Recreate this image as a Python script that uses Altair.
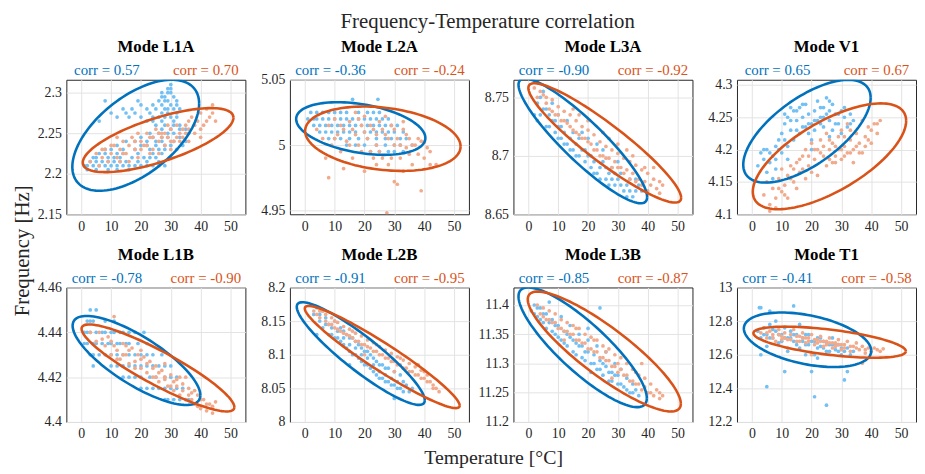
import altair as alt
import pandas as pd
import numpy as np

FONT = "Liberation Serif, serif"
BLUE_PT = "#72c0f4"
ORANGE_PT = "#f2aa8c"
BLUE_LN = "#0072BD"
ORANGE_LN = "#D95319"
W, H = 181, 136

XTICKS = [0, 10, 20, 30, 40, 50]
XDOM = [-5, 55]

# ---------------- data ----------------
# blue series with quantised frequencies: {frequency: [temperatures]}
L1A_B_ROWS = {
    2.205: [2, 5, 9, 12, 16],
    2.21: [1, 2, 4, 6, 8, 10, 12, 14, 16, 18, 20, 22, 24, 26, 28],
    2.215: [3, 5, 7, 9, 11, 13, 15, 19, 22, 26],
    2.22: [4, 5, 9, 11, 13, 17, 21, 23, 25, 30],
    2.225: [6, 8, 12, 14, 19, 24, 27],
    2.23: [8, 10, 14, 18, 23, 26, 28, 32],
    2.235: [12, 20, 22, 25, 28, 30, 34],
    2.24: [15, 18, 22, 25, 27, 31, 35],
    2.245: [20, 24, 27, 29, 33],
    2.25: [23, 26, 29, 31, 36],
    2.255: [27, 30, 33, 35],
    2.26: [25, 28, 31, 33],
    2.265: [6, 22, 24, 27, 31],
    2.27: [12, 16, 20, 24, 26, 28, 30, 32],
    2.275: [10, 15, 18, 23, 27, 29, 32],
    2.28: [14, 17, 22, 25, 28, 29, 31, 33],
    2.285: [20, 24, 27, 30, 32],
    2.29: [8, 19, 26, 28, 29, 32],
    2.295: [27, 28, 31],
    2.3: [27, 29, 30],
    2.305: [29, 30],
    2.31: [30],
}
L1A_O = [(3, 2.215), (5, 2.225), (6, 2.21), (7, 2.22), (8, 2.23), (9, 2.215), (10, 2.225), (11, 2.235),
         (12, 2.22), (12, 2.245), (13, 2.23), (14, 2.24), (15, 2.225), (16, 2.235), (17, 2.245), (18, 2.23),
         (19, 2.25), (20, 2.24), (21, 2.235), (22, 2.25), (23, 2.245), (24, 2.23), (25, 2.255), (26, 2.24),
         (27, 2.25), (28, 2.235), (29, 2.245), (30, 2.255), (31, 2.24), (32, 2.26), (33, 2.25), (34, 2.245),
         (35, 2.26), (36, 2.255), (37, 2.27), (38, 2.25), (39, 2.265), (40, 2.275), (41, 2.26), (42, 2.28),
         (43, 2.27), (44, 2.285), (45, 2.265), (36, 2.24), (26, 2.225), (16, 2.215), (40, 2.245),
         (14, 2.225), (18, 2.24), (22, 2.235), (24, 2.245), (28, 2.25), (30, 2.24), (32, 2.245), (34, 2.255),
         (38, 2.26), (10, 2.235), (13, 2.215), (20, 2.23), (26, 2.25), (30, 2.23), (33, 2.24), (36, 2.265),
         (42, 2.265), (44, 2.275), (7, 2.23), (19, 2.22), (23, 2.225), (27, 2.245), (29, 2.26), (35, 2.25),
         (40, 2.255)]

L2A_B_ROWS = {
    5.035: [16, 24.5],
    5.025: [2, 4, 6, 8, 10, 12, 14, 18, 21, 23, 25],
    5.02: [1, 3, 4, 6, 8, 10, 12, 14, 16, 18, 20, 22, 24, 26, 28],
    5.015: [3, 5, 7, 9, 11, 13, 15, 17, 19, 21, 23, 25, 27, 29, 31],
    5.01: [5, 7, 9, 11, 13, 15, 17, 20, 22, 24, 26, 28, 30, 33],
    5.005: [8, 10, 12, 15, 18, 21, 24, 27, 29, 32, 34],
    5.0: [14, 17, 20, 24, 27, 30, 32, 36],
    4.995: [22, 25, 28, 30, 33],
}
L2A_O = [(4, 5.012), (6, 5.005), (7, 4.99), (8, 5.015), (9, 5.0), (10, 5.02), (11, 5.008), (12, 4.995),
         (13, 5.012), (14, 5.003), (15, 5.018), (16, 4.99), (17, 5.008), (18, 5.0), (19, 5.015), (20, 5.022),
         (21, 5.005), (22, 4.995), (23, 5.012), (24, 5.0), (25, 5.018), (26, 4.99), (27, 5.008), (28, 4.985),
         (29, 5.015), (30, 5.0), (31, 5.005), (32, 4.99), (33, 5.012), (34, 4.998), (35, 5.005), (36, 4.985),
         (37, 5.0), (38, 4.993), (39, 5.003), (40, 4.99), (41, 4.998), (42, 4.985), (44, 4.985), (8, 4.975),
         (13, 4.982), (20, 4.98), (30, 4.972), (31, 4.97), (39, 4.965), (27.5, 4.948), (33, 4.98), (24, 4.985),
         (12, 5.015), (16, 5.012), (18, 5.02), (20, 5.01), (22, 5.015), (24, 5.008), (26, 5.012), (28, 5.005),
         (30, 5.012), (32, 5.0), (34, 5.008), (36, 5.0), (38, 5.005), (40, 5.002), (42, 4.995), (15, 5.0),
         (19, 4.995), (25, 4.995), (29, 4.99), (35, 4.993), (10, 5.005), (27, 5.022), (33, 5.018), (23, 4.99),
         (17, 5.025)]

L3A_B = [(3, 8.745), (4, 8.735), (5, 8.74), (6, 8.725), (7, 8.735), (8, 8.73), (9, 8.72), (10, 8.725),
         (11, 8.715), (12, 8.72), (13, 8.71), (14, 8.715), (15, 8.705), (16, 8.71), (17, 8.7), (18, 8.705),
         (19, 8.695), (20, 8.7), (21, 8.69), (22, 8.695), (23, 8.685), (24, 8.69), (25, 8.695), (26, 8.68),
         (27, 8.685), (28, 8.69), (29, 8.675), (30, 8.68), (31, 8.685), (32, 8.67), (33, 8.675), (34, 8.68),
         (35, 8.665), (36, 8.67), (37, 8.675), (10, 8.735), (15, 8.72), (20, 8.715), (25, 8.705), (30, 8.695),
         (5, 8.755), (8, 8.745), (13, 8.73), (18, 8.72), (23, 8.71),
         (4, 8.75), (6, 8.74), (7, 8.725), (9, 8.73), (11, 8.725), (12, 8.71), (14, 8.705), (16, 8.7),
         (17, 8.715), (19, 8.705), (21, 8.7), (22, 8.685), (24, 8.68), (26, 8.69), (27, 8.675), (28, 8.68),
         (29, 8.685), (31, 8.675), (33, 8.665), (34, 8.67), (36, 8.68), (38, 8.67), (2, 8.735), (3, 8.73),
         (10, 8.715)]
L3A_O = [(2, 8.758), (3, 8.75), (5, 8.752), (6, 8.745), (7, 8.74), (8, 8.748), (9, 8.735), (10, 8.742),
         (11, 8.73), (12, 8.738), (13, 8.728), (14, 8.735), (15, 8.722), (16, 8.73), (17, 8.718), (18, 8.725),
         (19, 8.715), (20, 8.722), (21, 8.71), (22, 8.718), (23, 8.705), (24, 8.712), (25, 8.7), (26, 8.708),
         (27, 8.698), (28, 8.705), (29, 8.695), (30, 8.702), (31, 8.69), (32, 8.698), (33, 8.688), (34, 8.695),
         (35, 8.685), (36, 8.692), (37, 8.68), (38, 8.688), (39, 8.678), (40, 8.685), (41, 8.675), (42, 8.68),
         (43, 8.672), (44, 8.678), (45, 8.675), (20, 8.73), (30, 8.71), (15, 8.74), (35, 8.7), (25, 8.72),
         (4, 8.755), (6, 8.75), (8, 8.738), (10, 8.735), (12, 8.73), (14, 8.725), (16, 8.72), (18, 8.715),
         (20, 8.712), (22, 8.705), (24, 8.7), (26, 8.698), (28, 8.69), (30, 8.69), (32, 8.685), (34, 8.68),
         (36, 8.678), (38, 8.675), (40, 8.67), (42, 8.69), (44, 8.668), (17, 8.735), (27, 8.715), (33, 8.705),
         (39, 8.69)]

V1_B = [(2, 4.175), (3, 4.195), (4, 4.185), (5, 4.165), (5, 4.2), (6, 4.18), (7, 4.19), (8, 4.205), (8, 4.17),
        (9, 4.215), (10, 4.195), (10, 4.225), (11, 4.24), (12, 4.205), (12, 4.25), (13, 4.23), (14, 4.26),
        (14, 4.215), (15, 4.245), (16, 4.265), (16, 4.225), (17, 4.25), (18, 4.235), (18, 4.27), (19, 4.255),
        (20, 4.24), (20, 4.215), (21, 4.26), (22, 4.245), (22, 4.275), (23, 4.25), (24, 4.265), (24, 4.235),
        (25, 4.28), (25, 4.255), (26, 4.245), (27, 4.27), (27, 4.23), (28, 4.255), (29, 4.24), (30, 4.26),
        (31, 4.25), (32, 4.235), (33, 4.255), (34, 4.245), (7, 4.155), (12, 4.185), (20, 4.2), (26, 4.22),
        (30, 4.225),
        (4, 4.2), (6, 4.195), (8, 4.185), (9, 4.2), (11, 4.215), (11, 4.255), (13, 4.245), (13, 4.265),
        (15, 4.23), (15, 4.26), (17, 4.235), (17, 4.27), (19, 4.24), (19, 4.225), (21, 4.245), (21, 4.23),
        (23, 4.265), (23, 4.24), (24, 4.25), (26, 4.26), (26, 4.275), (28, 4.24), (29, 4.255), (31, 4.265),
        (33, 4.24)]
V1_O = [(4, 4.13), (5, 4.15), (6, 4.115), (7, 4.14), (8, 4.125), (9, 4.155), (10, 4.135), (10, 4.17),
        (11, 4.145), (12, 4.16), (12, 4.125), (13, 4.175), (14, 4.15), (15, 4.18), (15, 4.14), (16, 4.165),
        (17, 4.19), (18, 4.155), (18, 4.2), (19, 4.175), (20, 4.21), (20, 4.165), (21, 4.185), (22, 4.2),
        (22, 4.16), (23, 4.215), (24, 4.19), (25, 4.175), (25, 4.225), (26, 4.2), (27, 4.21), (27, 4.18),
        (28, 4.19), (29, 4.22), (29, 4.2), (30, 4.185), (30, 4.23), (31, 4.205), (32, 4.195), (32, 4.24),
        (33, 4.215), (34, 4.2), (34, 4.18), (35, 4.225), (36, 4.21), (37, 4.245), (37, 4.195), (38, 4.22),
        (39, 4.235), (40, 4.21), (41, 4.24), (42, 4.225), (43, 4.245), (6, 4.105), (8, 4.11),
        (9, 4.14), (11, 4.13), (13, 4.155), (14, 4.17), (16, 4.185), (17, 4.17), (19, 4.19), (21, 4.2),
        (23, 4.195), (24, 4.205), (26, 4.185), (26, 4.215), (28, 4.205), (28, 4.18), (30, 4.2), (31, 4.19),
        (31, 4.22), (33, 4.195), (33, 4.23), (35, 4.205), (36, 4.195), (38, 4.205), (39, 4.215), (40, 4.23),
        (42, 4.24)]

L1B_B_ROWS = {
    4.45: [3, 5],
    4.445: [2, 3, 4, 8, 11],
    4.44: [1, 2, 3, 5, 7, 8, 10, 11, 13, 14, 16, 18, 21],
    4.435: [1, 2, 4, 5, 7, 9, 10, 12, 13, 15, 16, 19, 22],
    4.43: [3, 4, 6, 8, 10, 12, 14, 16, 18, 20, 22, 24, 27],
    4.425: [4, 10, 12, 14, 16, 18, 20, 22, 24, 26, 28, 30],
    4.42: [14, 16, 18, 20, 23, 25, 28, 30, 32],
    4.415: [20, 22, 24, 26, 28, 30, 32, 34],
    4.41: [28, 29, 31, 33, 35, 36],
}
L1B_O = [(3, 4.44), (5, 4.436), (6, 4.44), (8, 4.434), (9, 4.438), (10, 4.43), (11, 4.447), (11, 4.434),
         (12, 4.432), (13, 4.428), (14, 4.435), (15, 4.43), (16, 4.426), (17, 4.433), (18, 4.427), (19, 4.43),
         (20, 4.424), (21, 4.429), (22, 4.422), (23, 4.427), (24, 4.42), (25, 4.425), (26, 4.418), (27, 4.423),
         (28, 4.419), (29, 4.416), (30, 4.421), (31, 4.414), (32, 4.419), (33, 4.412), (34, 4.417), (35, 4.41),
         (36, 4.415), (37, 4.413), (38, 4.408), (39, 4.412), (40, 4.406), (41, 4.41), (42, 4.405), (43, 4.408),
         (44, 4.407), (45, 4.409), (28, 4.426), (20, 4.432), (35, 4.42),
         (7, 4.437), (10, 4.436), (12, 4.428), (14, 4.43), (16, 4.432), (18, 4.424), (20, 4.428), (22, 4.426),
         (24, 4.424), (26, 4.422), (28, 4.42), (30, 4.416), (32, 4.416), (34, 4.414), (36, 4.412), (38, 4.414),
         (40, 4.41), (42, 4.408), (44, 4.404), (15, 4.434), (25, 4.42), (31, 4.418), (33, 4.42), (37, 4.41),
         (39, 4.407)]

L2B_B = [(3, 8.16), (4, 8.17), (5, 8.15), (6, 8.14), (6, 8.165), (7, 8.155), (8, 8.13), (8, 8.145), (9, 8.14),
         (10, 8.125), (10, 8.15), (11, 8.135), (12, 8.12), (12, 8.14), (13, 8.125), (14, 8.11), (14, 8.13),
         (15, 8.115), (16, 8.1), (16, 8.125), (17, 8.11), (18, 8.095), (18, 8.115), (19, 8.1), (20, 8.085),
         (20, 8.105), (21, 8.095), (22, 8.08), (22, 8.1), (23, 8.085), (24, 8.07), (24, 8.09), (25, 8.075),
         (26, 8.065), (26, 8.085), (27, 8.07), (28, 8.06), (28, 8.08), (29, 8.065), (30, 8.055), (30, 8.075),
         (31, 8.06), (32, 8.05), (32, 8.07), (34, 8.055), (35, 8.045), (30, 8.035), (4, 8.13), (15, 8.085),
         (5, 8.16), (7, 8.145), (9, 8.13), (11, 8.125), (13, 8.115), (13, 8.135), (15, 8.105), (15, 8.125),
         (17, 8.1), (17, 8.12), (19, 8.09), (19, 8.11), (21, 8.085), (21, 8.105), (23, 8.075), (23, 8.095),
         (25, 8.065), (25, 8.085), (27, 8.06), (27, 8.08), (29, 8.055), (31, 8.05), (33, 8.06), (33, 8.045),
         (36, 8.05)]
L2B_O = [(3, 8.165), (4, 8.16), (5, 8.155), (6, 8.165), (7, 8.15), (8, 8.145), (9, 8.155), (10, 8.14),
         (11, 8.148), (12, 8.135), (13, 8.142), (14, 8.13), (15, 8.138), (16, 8.125), (17, 8.132), (18, 8.12),
         (19, 8.128), (20, 8.115), (21, 8.122), (22, 8.11), (23, 8.118), (24, 8.105), (25, 8.112), (26, 8.1),
         (27, 8.107), (28, 8.095), (29, 8.102), (30, 8.09), (31, 8.097), (32, 8.085), (33, 8.092), (34, 8.08),
         (35, 8.087), (36, 8.075), (37, 8.082), (38, 8.07), (39, 8.077), (40, 8.065), (41, 8.07), (42, 8.06),
         (43, 8.055), (44, 8.05), (45, 8.045), (38, 8.085), (20, 8.1), (30, 8.075),
         (5, 8.165), (7, 8.16), (9, 8.145), (11, 8.138), (13, 8.132), (15, 8.128), (17, 8.12), (19, 8.115),
         (21, 8.112), (23, 8.105), (25, 8.1), (27, 8.095), (29, 8.09), (31, 8.085), (33, 8.08), (35, 8.075),
         (37, 8.07), (39, 8.065), (41, 8.06), (43, 8.05), (10, 8.15), (16, 8.135), (24, 8.115), (32, 8.095),
         (40, 8.075)]

L3B_B = [(1, 11.39), (2, 11.4), (3, 11.38), (4, 11.395), (5, 11.37), (6, 11.385), (6, 11.36), (7, 11.405),
         (8, 11.375), (9, 11.35), (10, 11.365), (11, 11.34), (11, 11.38), (12, 11.355), (13, 11.33), (14, 11.345),
         (14, 11.365), (15, 11.32), (16, 11.335), (17, 11.35), (18, 11.31), (18, 11.33), (19, 11.32), (20, 11.34),
         (21, 11.3), (22, 11.315), (23, 11.29), (23, 11.33), (24, 11.305), (25, 11.28), (26, 11.295), (26, 11.32),
         (27, 11.27), (28, 11.285), (29, 11.3), (30, 11.265), (30, 11.28), (31, 11.29), (32, 11.26), (33, 11.275),
         (34, 11.25), (35, 11.265), (36, 11.255), (37, 11.245), (24, 11.395), (20, 11.36),
         (2, 11.385), (3, 11.395), (4, 11.375), (5, 11.385), (7, 11.37), (8, 11.355), (9, 11.365), (10, 11.345),
         (12, 11.335), (13, 11.35), (15, 11.34), (16, 11.315), (17, 11.33), (19, 11.305), (20, 11.32),
         (21, 11.285), (22, 11.3), (24, 11.29), (25, 11.3), (27, 11.285), (28, 11.27), (29, 11.28),
         (31, 11.265), (33, 11.255), (35, 11.25)]
L3B_O = [(3, 11.4), (4, 11.385), (5, 11.395), (6, 11.375), (7, 11.39), (8, 11.37), (9, 11.385), (10, 11.36),
         (11, 11.375), (12, 11.355), (13, 11.37), (14, 11.35), (15, 11.365), (16, 11.34), (17, 11.36),
         (18, 11.335), (19, 11.35), (20, 11.325), (21, 11.345), (22, 11.32), (23, 11.34), (24, 11.31),
         (25, 11.33), (26, 11.305), (27, 11.325), (28, 11.295), (29, 11.315), (30, 11.285), (31, 11.31),
         (32, 11.28), (33, 11.3), (34, 11.27), (35, 11.29), (36, 11.265), (37, 11.28), (38, 11.255), (39, 11.275),
         (40, 11.25), (41, 11.265), (42, 11.245), (43, 11.255), (44, 11.25), (45, 11.245), (38, 11.3),
         (12, 11.34), (28, 11.275),
         (5, 11.38), (7, 11.375), (9, 11.37), (11, 11.36), (13, 11.355), (15, 11.35), (17, 11.34), (19, 11.335),
         (21, 11.325), (23, 11.32), (25, 11.31), (27, 11.305), (29, 11.295), (31, 11.29), (33, 11.28),
         (35, 11.27), (37, 11.265), (39, 11.26), (41, 11.25), (44, 11.24), (16, 11.36), (22, 11.34),
         (26, 11.32), (30, 11.3), (36, 11.285)]

T1_B = [(2, 12.74), (3, 12.7), (3, 12.6), (4, 12.76), (5, 12.72), (5, 12.65), (6, 12.78), (7, 12.7), (8, 12.74),
        (8, 12.8), (9, 12.67), (10, 12.72), (11, 12.76), (12, 12.7), (12, 12.62), (13, 12.74), (14, 12.68),
        (15, 12.72), (16, 12.78), (16, 12.64), (17, 12.7), (18, 12.66), (19, 12.72), (20, 12.68), (21, 12.6),
        (22, 12.7), (23, 12.65), (24, 12.68), (25, 12.62), (26, 12.66), (27, 12.7), (28, 12.63), (29, 12.66),
        (30, 12.6), (32, 12.64), (34, 12.62), (2.5, 12.88), (3, 12.88), (6, 12.86), (14, 12.89), (5, 12.41),
        (11, 12.5), (20, 12.5), (21, 12.35), (25, 12.3), (31, 12.45), (32, 12.5), (22, 12.58),
        (4, 12.72), (6, 12.7), (7, 12.75), (9, 12.72), (10, 12.68), (11, 12.7), (13, 12.7), (14, 12.72),
        (15, 12.66), (17, 12.68), (18, 12.72), (19, 12.66), (21, 12.68), (22, 12.64), (23, 12.7), (24, 12.64),
        (25, 12.67), (26, 12.62), (27, 12.66), (28, 12.66), (29, 12.62), (30, 12.64), (31, 12.62), (33, 12.6),
        (18, 12.6)]
T1_O = [(3, 12.73), (4, 12.76), (5, 12.7), (6, 12.74), (7, 12.72), (8, 12.68), (9, 12.75), (10, 12.71),
        (11, 12.73), (12, 12.69), (13, 12.72), (14, 12.75), (15, 12.68), (16, 12.71), (17, 12.73), (18, 12.67),
        (19, 12.7), (20, 12.72), (21, 12.66), (22, 12.69), (23, 12.71), (24, 12.65), (25, 12.68), (26, 12.7),
        (27, 12.64), (28, 12.67), (29, 12.69), (30, 12.63), (31, 12.66), (32, 12.68), (33, 12.62), (34, 12.65),
        (35, 12.67), (36, 12.63), (37, 12.65), (38, 12.61), (39, 12.64), (40, 12.62), (41, 12.64), (42, 12.63),
        (43, 12.62), (44, 12.635), (37, 12.55), (20, 12.6), (12, 12.64),
        (5, 12.73), (7, 12.7), (9, 12.72), (10, 12.69), (11, 12.7), (13, 12.69), (15, 12.71), (16, 12.68),
        (17, 12.7), (18, 12.7), (19, 12.68), (21, 12.69), (22, 12.67), (23, 12.68), (24, 12.68), (25, 12.66),
        (26, 12.67), (27, 12.67), (28, 12.65), (29, 12.66), (30, 12.66), (31, 12.64), (33, 12.65), (35, 12.64),
        (38, 12.63)]

# ellipses: (x min, x max, y min, y max, correlation)
ELL_B = {
    "L1A": (-3, 39.5, 2.179, 2.316, 0.57), "L2A": (-2.9, 40.4, 4.9925, 5.0328, -0.36),
    "L3A": (-3.3, 39.8, 8.6594, 8.766, -0.90), "V1": (-2.9, 39.8, 4.149, 4.3078, 0.65),
    "L1B": (-2.9, 39.9, 4.4076, 4.4473, -0.78), "L2B": (-2.7, 40.2, 8.0254, 8.178, -0.91),
    "L3B": (-3.3, 39.7, 11.2254, 11.43, -0.85), "T1": (-2.7, 40, 12.527, 12.851, -0.41),
}
ELL_O = {
    "L1A": (0.5, 51, 2.202, 2.281, 0.70), "L2A": (0.1, 52.2, 4.9802, 5.0295, -0.24),
    "L3A": (0, 51.2, 8.66, 8.762, -0.92), "V1": (0.3, 51.7, 4.1078, 4.2715, 0.67),
    "L1B": (0.1, 51.3, 4.4047, 4.4435, -0.90), "L2B": (0, 51.9, 8.0206, 8.1725, -0.95),
    "L3B": (-0.2, 51.1, 11.218, 11.423, -0.87), "T1": (0.5, 51.6, 12.582, 12.767, -0.58),
}
CORR_B = {"L1A": "0.57", "L2A": "-0.36", "L3A": "-0.90", "V1": "0.65",
          "L1B": "-0.78", "L2B": "-0.91", "L3B": "-0.85", "T1": "-0.41"}
CORR_O = {"L1A": "0.70", "L2A": "-0.24", "L3A": "-0.92", "V1": "0.67",
          "L1B": "-0.90", "L2B": "-0.95", "L3B": "-0.87", "T1": "-0.58"}
YDOM = {"L1A": [2.15, 2.316], "L2A": [4.947, 5.05], "L3A": [8.65, 8.765], "V1": [4.1, 4.308],
        "L1B": [4.4, 4.46], "L2B": [8.0, 8.2], "L3B": [11.2, 11.43], "T1": [12.2, 13.0]}
YTICKS = {"L1A": [2.15, 2.2, 2.25, 2.3], "L2A": [4.95, 5.0, 5.05], "L3A": [8.65, 8.7, 8.75],
          "V1": [4.1, 4.15, 4.2, 4.25, 4.3], "L1B": [4.4, 4.42, 4.44, 4.46],
          "L2B": [8.0, 8.05, 8.1, 8.15, 8.2], "L3B": [11.2, 11.25, 11.3, 11.35, 11.4],
          "T1": [12.2, 12.4, 12.6, 12.8, 13.0]}
MODES = ["L1A", "L2A", "L3A", "V1", "L1B", "L2B", "L3B", "T1"]


def rows_to_pts(rows):
    return [(x, y) for y, xs in rows.items() for x in xs]


POINTS_B = {"L1A": rows_to_pts(L1A_B_ROWS), "L2A": rows_to_pts(L2A_B_ROWS), "L3A": L3A_B, "V1": V1_B,
            "L1B": rows_to_pts(L1B_B_ROWS), "L2B": L2B_B, "L3B": L3B_B, "T1": T1_B}
POINTS_O = {"L1A": L1A_O, "L2A": L2A_O, "L3A": L3A_O, "V1": V1_O,
            "L1B": L1B_O, "L2B": L2B_O, "L3B": L3B_O, "T1": T1_O}


def ellipse_outline(p, name, color):
    x0, x1, y0, y1, rho = p
    mx, ax = (x0 + x1) / 2, (x1 - x0) / 2
    my, ay = (y0 + y1) / 2, (y1 - y0) / 2
    t = np.linspace(0, 2 * np.pi, 121)
    return pd.DataFrame({
        "x": mx + ax * np.cos(t),
        "y": my + ay * (rho * np.cos(t) + np.sqrt(1 - rho ** 2) * np.sin(t)),
        "i": np.arange(len(t)), "s": name, "c": color,
    })


def text_layer(txt, x, y, size, color, weight="normal", align="center", angle=0):
    return alt.Chart(pd.DataFrame({"t": [txt]})).mark_text(
        align=align, baseline="middle", font=FONT, fontSize=size, fontWeight=weight,
        color=color, angle=angle,
    ).encode(x=alt.value(x), y=alt.value(y), text="t:N")


AX = dict(title=None, labelFont=FONT, labelFontSize=14, labelColor="#262626", labelOverlap=False,
          labelPadding=5, ticks=False, domain=False, gridColor="#e3e3e3")

charts = []
for k, m in enumerate(MODES):
    pts = pd.DataFrame([(x, y, BLUE_PT) for x, y in POINTS_B[m]] +
                       [(x, y, ORANGE_PT) for x, y in POINTS_O[m]], columns=["x", "y", "c"])
    xenc = alt.X("x:Q", scale=alt.Scale(domain=XDOM, nice=False, zero=False),
                 axis=alt.Axis(values=XTICKS, **AX))
    yenc = alt.Y("y:Q", scale=alt.Scale(domain=YDOM[m], nice=False, zero=False),
                 axis=alt.Axis(values=YTICKS[m], format="~g", **AX))
    pl = alt.Chart(pts).mark_circle(size=14, opacity=1, clip=True).encode(
        x=xenc, y=yenc, color=alt.Color("c:N", scale=None))
    ell = pd.concat([ellipse_outline(ELL_B[m], "b", BLUE_LN), ellipse_outline(ELL_O[m], "o", ORANGE_LN)])
    el = alt.Chart(ell).mark_line(strokeWidth=2.6, clip=True).encode(
        x=alt.X("x:Q", axis=alt.Axis(values=XTICKS, **AX)),
        y=alt.Y("y:Q", axis=alt.Axis(values=YTICKS[m], format="~g", **AX)),
        detail="s:N", order="i:Q", color=alt.Color("c:N", scale=None))
    layers = [pl, el,
              text_layer("Mode " + m, W / 2, -33, 17, "#000000", weight="bold"),
              text_layer("corr = " + CORR_B[m], 41, -10, 15, BLUE_LN),
              text_layer("corr = " + CORR_O[m], 141, -10, 15, ORANGE_LN)]
    if k == 0:
        layers.append(text_layer("Frequency [Hz]", -44, 173, 21, "#262626", angle=270))
    if k == 1:
        layers.append(text_layer("Frequency-Temperature correlation", 200, -58, 21, "#262626"))
    if k == 5:
        layers.append(text_layer("Temperature [°C]", 206, 172, 20, "#262626"))
    charts.append(alt.layer(*layers).properties(width=W, height=H))

chart = alt.concat(*charts, columns=4, spacing=alt.RowColnumber(row=74, column=45), bounds="flush").properties(
    padding={"left": 3, "top": 0, "right": 0, "bottom": 0}
).configure_view(stroke="#262626", strokeWidth=1).configure_axis(
    grid=True, gridColor="#e3e3e3", gridWidth=1, domain=False, ticks=False,
    labelFont=FONT, labelFontSize=14, labelColor="#262626", labelPadding=5, labelOverlap=False,
)

chart.save("out.html", embed_options={"renderer": "svg", "actions": False})
